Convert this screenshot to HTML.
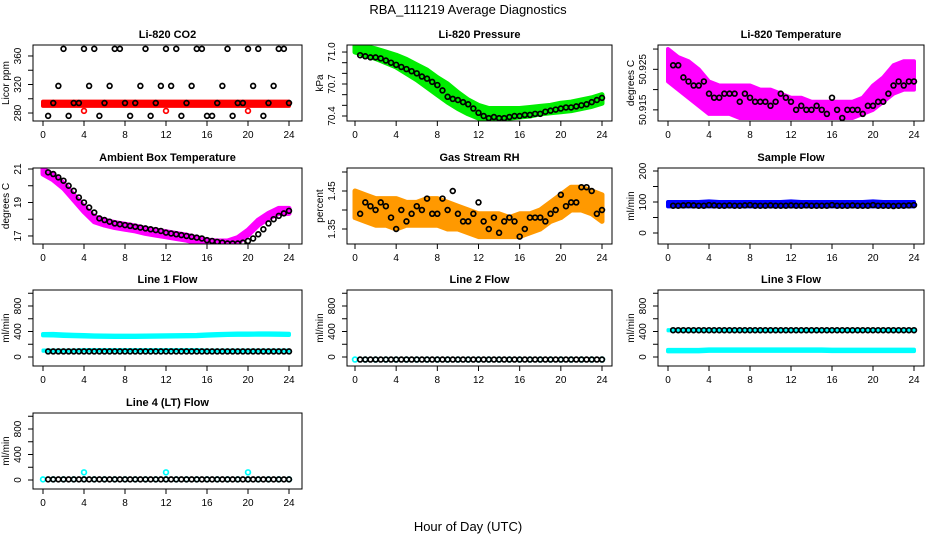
<!DOCTYPE html>
<html><head><meta charset="utf-8"><style>
body{margin:0;background:#fff}
svg{display:block;font-family:"Liberation Sans",sans-serif}
</style></head><body>
<svg id="c" width="936" height="540" viewBox="0 0 936 540">
<text x="468" y="14" text-anchor="middle" font-size="13">RBA_111219  Average Diagnostics</text>
<text x="468" y="531" text-anchor="middle" font-size="13">Hour of Day (UTC)</text>
</svg>
<script>
// hourly grid for coloured series, half-hour grid for black series
const co2Red=[293,293,293,293,293,293,293,293,293,293,293,293,293,293,293,293,293,293,293,293,293,293,293,293,293];
const co2OutX=[4,12,20];
const co2OutY=[283,283,283];
const co2Black=[276,294,318,370,276,294,294,370,318,370,276,294,318,370,370,294,276,294,318,370,276,294,318,370,318,370,276,294,318,370,370,276,276,294,318,370,276,294,294,370,318,370,276,294,318,370,370,294];
const presHi=[71.06,71.05,71.03,71.0,70.97,70.93,70.88,70.83,70.76,70.70,70.62,70.55,70.50,70.47,70.47,70.47,70.47,70.48,70.49,70.50,70.52,70.53,70.55,70.57,70.60];
const presLo=[71.0,70.97,70.94,70.90,70.86,70.80,70.74,70.67,70.60,70.53,70.47,70.42,70.38,70.37,70.37,70.38,70.39,70.40,70.42,70.43,70.44,70.45,70.47,70.49,70.52];
const presBlack=[70.97,70.96,70.95,70.95,70.94,70.92,70.90,70.88,70.86,70.84,70.82,70.80,70.77,70.75,70.72,70.69,70.64,70.58,70.56,70.55,70.53,70.51,70.47,70.43,70.40,70.38,70.39,70.38,70.38,70.39,70.40,70.40,70.41,70.41,70.42,70.42,70.44,70.45,70.46,70.47,70.48,70.48,70.49,70.50,70.51,70.53,70.55,70.57];
const tempHi=[50.930,50.928,50.927,50.925,50.922,50.921,50.921,50.921,50.921,50.920,50.920,50.919,50.918,50.918,50.917,50.917,50.917,50.917,50.917,50.918,50.921,50.923,50.926,50.927,50.927];
const tempLo=[50.922,50.920,50.918,50.916,50.914,50.914,50.914,50.913,50.913,50.913,50.913,50.913,50.913,50.913,50.913,50.913,50.913,50.913,50.913,50.914,50.915,50.917,50.919,50.920,50.920];
const tempBlack=[50.926,50.926,50.923,50.922,50.921,50.921,50.922,50.919,50.918,50.918,50.919,50.919,50.919,50.917,50.919,50.918,50.917,50.917,50.917,50.916,50.917,50.919,50.918,50.917,50.915,50.916,50.915,50.915,50.916,50.915,50.914,50.918,50.915,50.913,50.915,50.915,50.915,50.914,50.916,50.916,50.917,50.917,50.919,50.921,50.922,50.921,50.922,50.922];
const ambHi=[21.0,20.65,20.15,19.45,18.75,18.15,17.95,17.8,17.7,17.6,17.45,17.35,17.25,17.15,17.05,16.9,16.75,16.7,16.7,16.9,17.35,17.95,18.35,18.65,18.65];
const ambLo=[20.7,20.35,19.85,19.15,18.45,17.85,17.65,17.5,17.4,17.3,17.15,17.05,16.95,16.85,16.75,16.6,16.45,16.4,16.4,16.6,17.05,17.65,18.05,18.35,18.35];
const ambBlack=[20.8,20.7,20.5,20.3,20.0,19.7,19.3,19.0,18.7,18.4,18.05,17.95,17.85,17.75,17.7,17.65,17.6,17.55,17.5,17.45,17.4,17.35,17.3,17.2,17.15,17.1,17.05,17.0,16.95,16.9,16.85,16.75,16.7,16.65,16.6,16.55,16.55,16.55,16.6,16.7,16.85,17.1,17.4,17.75,18.0,18.2,18.35,18.5];
const rhHi=[1.45,1.44,1.43,1.43,1.43,1.42,1.42,1.43,1.43,1.42,1.41,1.40,1.39,1.39,1.39,1.38,1.39,1.39,1.40,1.42,1.44,1.46,1.46,1.45,1.44];
const rhLo=[1.38,1.37,1.36,1.36,1.35,1.36,1.36,1.36,1.36,1.35,1.35,1.34,1.33,1.33,1.33,1.33,1.33,1.34,1.35,1.37,1.38,1.40,1.40,1.39,1.37];
const rhBlack=[1.39,1.42,1.41,1.40,1.42,1.41,1.38,1.35,1.40,1.37,1.39,1.41,1.40,1.43,1.39,1.39,1.43,1.40,1.45,1.39,1.37,1.37,1.39,1.42,1.37,1.35,1.38,1.34,1.37,1.38,1.37,1.33,1.35,1.38,1.38,1.38,1.37,1.39,1.40,1.44,1.41,1.42,1.42,1.46,1.46,1.45,1.39,1.40];
const sampHi=[100,100,100,100,102,100,100,100,100,100,100,100,102,100,100,100,100,100,100,100,102,100,100,100,100];
const sampLo=[86,86,86,86,86,86,86,86,86,86,86,86,86,86,86,86,86,86,86,86,86,86,86,86,86];
const sampBlack=[88,88,89,90,89,88,88,90,89,88,88,89,88,88,89,90,88,88,88,89,88,88,88,89,88,88,89,88,88,88,88,90,88,88,88,89,88,88,88,90,88,88,88,87,88,88,89,90];
const l1Hi=[360,362,355,350,345,340,338,336,336,336,338,340,342,344,346,348,355,360,365,368,368,370,370,368,365];
const l1Lo=[340,338,330,326,322,318,316,314,314,314,316,318,320,322,324,326,334,340,345,348,348,350,350,348,345];
const l1Low=[100,100,100,100,105,105,105,105,105,105,105,105,105,105,105,105,100,100,100,100,100,100,100,100,100];
const l1Black=Array(48).fill(88);
const l2Cyan=Array(25).fill(-40);
const l2Black=Array(48).fill(-40);
const l3Hi=Array(25).fill(430);
const l3Low=[100,100,100,100,108,108,108,108,108,108,108,108,108,108,108,108,104,104,104,104,104,104,104,104,104];
const l3Black=Array(48).fill(420);
const l4Cyan=Array(25).fill(10);
const l4OutX=[4,12,20];
const l4OutY=[120,120,120];
const l4Black=Array(48).fill(10);

const svg=document.getElementById('c');
const NS='http://www.w3.org/2000/svg';
function mk(tag,attrs,parent){const e=document.createElementNS(NS,tag);for(const k in attrs)e.setAttribute(k,attrs[k]);(parent||svg).appendChild(e);return e;}
const cols=[{l:33,r:302,x0:43,x24:289},{l:347,r:612,x0:355,x24:602},{l:658,r:924,x0:668,x24:914}];
const rows=[{t:45,b:121},{t:168,b:244},{t:290,b:366},{t:413,b:489}];
const H=[];for(let i=0;i<=24;i++)H.push(i);
const HB=[];for(let i=1;i<=48;i++)HB.push(i/2);

function panel(o){
  const c=cols[o.col],r=rows[o.row];
  const g=mk('g',{});
  
  
  const X=h=>c.x0+(c.x24-c.x0)*h/24;
  const Y=v=>r.b-(v-o.ymin)/(o.ymax-o.ymin)*(r.b-r.t);
  const cp='clip'+o.name;
  const cpe=mk('clipPath',{id:cp},g);mk('rect',{x:c.l,y:r.t,width:c.r-c.l,height:r.b-r.t},cpe);
  const plot=mk('g',{'clip-path':'url(#'+cp+')'},g);
  (o.bands||[]).forEach(b=>{
    let d='';
    b.hi.forEach((v,i)=>{d+=(i?'L':'M')+X(H[i])+','+Y(v);});
    for(let i=b.lo.length-1;i>=0;i--)d+='L'+X(H[i])+','+Y(b.lo[i]);
    const p=mk('path',{d:d+'Z',fill:b.color,stroke:b.color,'stroke-width':b.w||6,'stroke-linejoin':'round'},plot);
    
    
  });
  (o.pts||[]).forEach(s=>{
    const gg=mk('g',{},plot);
    
    
    s.y.forEach((v,i)=>{
      const cc=mk('circle',{cx:X(s.x[i]),cy:Y(v),r:2.4,fill:'none',stroke:s.color,'stroke-width':1.7},gg);
      
      
    });
  });
  const box=mk('rect',{x:c.l,y:r.t,width:c.r-c.l,height:r.b-r.t,fill:'none',stroke:'#000','stroke-width':1},g);
  
  
  const xa=mk('g',{},g);
  
  
  mk('line',{x1:X(0),x2:X(24),y1:r.b,y2:r.b,stroke:'#000'},xa);
  for(let h=0;h<=24;h+=4){
    mk('line',{x1:X(h),x2:X(h),y1:r.b,y2:r.b+5,stroke:'#000'},xa);
    const t=mk('text',{x:X(h),y:r.b+17,'text-anchor':'middle','font-size':10},xa);t.textContent=h;
  }
  const ya=mk('g',{},g);
  
  
  o.ticks.forEach(v=>{mk('line',{x1:c.l-5,x2:c.l,y1:Y(v),y2:Y(v),stroke:'#000'},ya);});
  o.labels.forEach(v=>{
    const tx=c.l-12,ty=Y(v);
    const t=mk('text',{x:tx,y:ty,'text-anchor':'middle','font-size':10,transform:'rotate(-90 '+tx+' '+ty+')'},ya);
    t.textContent=o.fmt?o.fmt(v):v;
  });
  const yt=mk('text',{x:c.l-24,y:(r.t+r.b)/2,'text-anchor':'middle','font-size':10,transform:'rotate(-90 '+(c.l-24)+' '+((r.t+r.b)/2)+')'},g);
  yt.textContent=o.ylab;
  
  
  const ti=mk('text',{x:(c.l+c.r)/2,y:r.t-7,'text-anchor':'middle','font-size':11,'font-weight':'bold'},g);
  ti.textContent=o.title;
  
  
}
const flowT=[0,200,400,600,800,1000],flowL=[0,400,800];
panel({name:'co2-panel',col:0,row:0,title:'Li-820 CO2',ylab:'Licor ppm',ymin:268.8,ymax:375.4,ticks:[280,300,320,340,360],labels:[280,320,360],
  bands:[{name:'co2-band',color:'#f00',hi:co2Red.map(v=>v+3),lo:co2Red.map(v=>v-3),w:4}],
  pts:[{name:'co2-outliers',color:'#f00',x:co2OutX,y:co2OutY},{name:'co2-black',color:'#000',x:HB,y:co2Black}]});
panel({name:'pressure-panel',col:1,row:0,title:'Li-820 Pressure',ylab:'kPa',ymin:70.353,ymax:71.066,ticks:[70.4,70.5,70.6,70.7,70.8,70.9,71.0],labels:[70.4,70.7,71.0],fmt:v=>v.toFixed(1),
  bands:[{name:'pressure-band',color:'#0e0',hi:presHi,lo:presLo,w:5}],
  pts:[{name:'pressure-black',color:'#000',x:HB,y:presBlack}]});
panel({name:'temperature-panel',col:2,row:0,title:'Li-820 Temperature',ylab:'degrees C',ymin:50.91225,ymax:50.931,ticks:[50.915,50.92,50.925,50.93],labels:[50.915,50.925],fmt:v=>v.toFixed(3),
  bands:[{name:'temperature-band',color:'#f0f',hi:tempHi,lo:tempLo,w:4}],
  pts:[{name:'temperature-black',color:'#000',x:HB,y:tempBlack}]});
panel({name:'ambient-panel',col:0,row:1,title:'Ambient Box Temperature',ylab:'degrees C',ymin:16.52,ymax:21.06,ticks:[17,18,19,20,21],labels:[17,19,21],
  bands:[{name:'ambient-band',color:'#f0f',hi:ambHi,lo:ambLo,w:5}],
  pts:[{name:'ambient-black',color:'#000',x:HB,y:ambBlack}]});
panel({name:'rh-panel',col:1,row:1,title:'Gas Stream RH',ylab:'percent',ymin:1.3105,ymax:1.5105,ticks:[1.35,1.4,1.45,1.5],labels:[1.35,1.45],fmt:v=>v.toFixed(2),
  bands:[{name:'rh-band',color:'#f90',hi:rhHi,lo:rhLo,w:5}],
  pts:[{name:'rh-black',color:'#000',x:HB,y:rhBlack}]});
panel({name:'sample-flow-panel',col:2,row:1,title:'Sample Flow',ylab:'ml/min',ymin:-35.5,ymax:209.7,ticks:[0,50,100,150,200],labels:[0,100,200],
  bands:[{name:'sample-band',color:'#00f',hi:sampHi,lo:sampLo,w:4}],
  pts:[{name:'sample-black',color:'#000',x:HB,y:sampBlack}]});
panel({name:'line1-panel',col:0,row:2,title:'Line 1 Flow',ylab:'ml/min',ymin:-141,ymax:1051,ticks:flowT,labels:flowL,
  bands:[{name:'line1-upper-band',color:'#0ff',hi:l1Hi,lo:l1Lo,w:4},{name:'line1-lower-band',color:'#0ff',hi:l1Low.map(v=>v+10),lo:l1Low.map(v=>v-10),w:3}],
  pts:[{name:'line1-black',color:'#000',x:HB,y:l1Black}]});
panel({name:'line2-panel',col:1,row:2,title:'Line 2 Flow',ylab:'ml/min',ymin:-141,ymax:1051,ticks:flowT,labels:flowL,
  pts:[{name:'line2-cyan',color:'#0ff',x:H,y:l2Cyan},{name:'line2-black',color:'#000',x:HB,y:l2Black}]});
panel({name:'line3-panel',col:2,row:2,title:'Line 3 Flow',ylab:'ml/min',ymin:-141,ymax:1051,ticks:flowT,labels:flowL,
  bands:[{name:'line3-upper-band',color:'#0ff',hi:l3Hi,lo:l3Hi.map(v=>v-20),w:3},{name:'line3-lower-band',color:'#0ff',hi:l3Low.map(v=>v+12),lo:l3Low.map(v=>v-12),w:4}],
  pts:[{name:'line3-black',color:'#000',x:HB,y:l3Black}]});
panel({name:'line4-panel',col:0,row:3,title:'Line 4 (LT) Flow',ylab:'ml/min',ymin:-141,ymax:1051,ticks:flowT,labels:flowL,
  pts:[{name:'line4-cyan',color:'#0ff',x:H,y:l4Cyan},{name:'line4-outliers',color:'#0ff',x:l4OutX,y:l4OutY},{name:'line4-black',color:'#000',x:HB,y:l4Black}]});
</script>
</body></html>
